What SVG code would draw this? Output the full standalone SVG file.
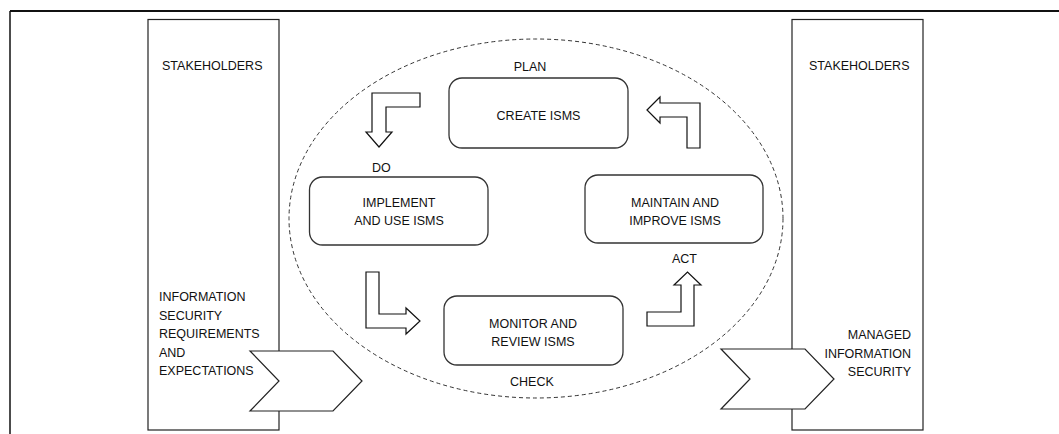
<svg xmlns="http://www.w3.org/2000/svg" width="1059" height="434" viewBox="0 0 1059 434">
  <style>
    text { font-family: "Liberation Sans", Arial, sans-serif; font-size: 12.5px; fill: #111; }
    .mid { text-anchor: middle; }
    .end { text-anchor: end; }
    .frame { fill: none; stroke: #111; }
    .side { fill: #fff; stroke: #222; stroke-width: 1.2; }
    .box { fill: #fff; stroke: #333; stroke-width: 1.3; }
    .chev { fill: #fff; stroke: #222; stroke-width: 1.2; stroke-linejoin: miter; }
    .bend { fill: #fff; stroke: #111; stroke-width: 1.2; stroke-linejoin: miter; }
    .cycle { fill: none; stroke: #333; stroke-width: 1; stroke-dasharray: 4 3; }
  </style>

  <rect width="1059" height="434" fill="#fff"/>

  <!-- page frame: top and left rules -->
  <line class="frame" x1="10" y1="11" x2="1059" y2="11" stroke-width="2"/>
  <line class="frame" x1="10" y1="11" x2="10" y2="434" stroke-width="1.5"/>

  <!-- stakeholder columns -->
  <g id="stakeholders-in">
    <rect class="side" x="148" y="19.5" width="131" height="410.5"/>
    <text x="162" y="70">STAKEHOLDERS</text>
    <text x="159" y="301">INFORMATION</text>
    <text x="159" y="319.5">SECURITY</text>
    <text x="159" y="338">REQUIREMENTS</text>
    <text x="159" y="356.5">AND</text>
    <text x="159" y="375">EXPECTATIONS</text>
  </g>
  <g id="stakeholders-out">
    <rect class="side" x="792" y="19.5" width="131" height="410.5"/>
    <text x="809" y="70">STAKEHOLDERS</text>
    <text class="end" x="911" y="339">MANAGED</text>
    <text class="end" x="911" y="357.5">INFORMATION</text>
    <text class="end" x="911" y="376">SECURITY</text>
  </g>

  <!-- PDCA cycle boundary -->
  <g id="cycle">
    <ellipse class="cycle" cx="536" cy="218.5" rx="247" ry="179.5"/>
  </g>

  <!-- input / output chevrons -->
  <g id="input-chevron">
    <polygon class="chev" points="250,351 333,351 362,381 333,411 250,411 279,381"/>
  </g>
  <g id="output-chevron">
    <polygon class="chev" points="721,349 805,349 834,379 805,409 721,409 750,379"/>
  </g>

  <!-- process stages -->
  <g id="plan">
    <text class="mid" x="530" y="71">PLAN</text>
    <rect class="box" x="449" y="78" width="179" height="70" rx="13"/>
    <text class="mid" x="538.5" y="120">CREATE ISMS</text>
  </g>
  <g id="do">
    <text x="372" y="172">DO</text>
    <rect class="box" x="309.5" y="177" width="178.5" height="68" rx="13"/>
    <text class="mid" x="399" y="207">IMPLEMENT</text>
    <text class="mid" x="399" y="225">AND USE ISMS</text>
  </g>
  <g id="act">
    <rect class="box" x="585" y="175" width="178" height="68" rx="13"/>
    <text class="mid" x="675" y="207">MAINTAIN AND</text>
    <text class="mid" x="675" y="225">IMPROVE ISMS</text>
    <text x="672" y="263">ACT</text>
  </g>
  <g id="check">
    <rect class="box" x="444" y="296" width="179" height="69" rx="13"/>
    <text class="mid" x="533" y="328">MONITOR AND</text>
    <text class="mid" x="533" y="346">REVIEW ISMS</text>
    <text x="510" y="386">CHECK</text>
  </g>

  <!-- bent arrows linking the stages -->
  <g id="connectors">
    <polygon class="bend" points="372,93 420,93 420,107 386,107 386,132 392,132 379,147 366,132 372,132"/>
    <polygon class="bend" points="366,272 379,272 379,314 406,314 406,308 420,321 406,334 406,328 366,328"/>
    <polygon class="bend" points="647,312 681,312 681,285 674,285 687.5,272 701,285 694,285 694,326 647,326"/>
    <polygon class="bend" points="647,110 660,97 660,103 700,103 700,148 687,148 687,117 660,117 660,123"/>
  </g>
</svg>
